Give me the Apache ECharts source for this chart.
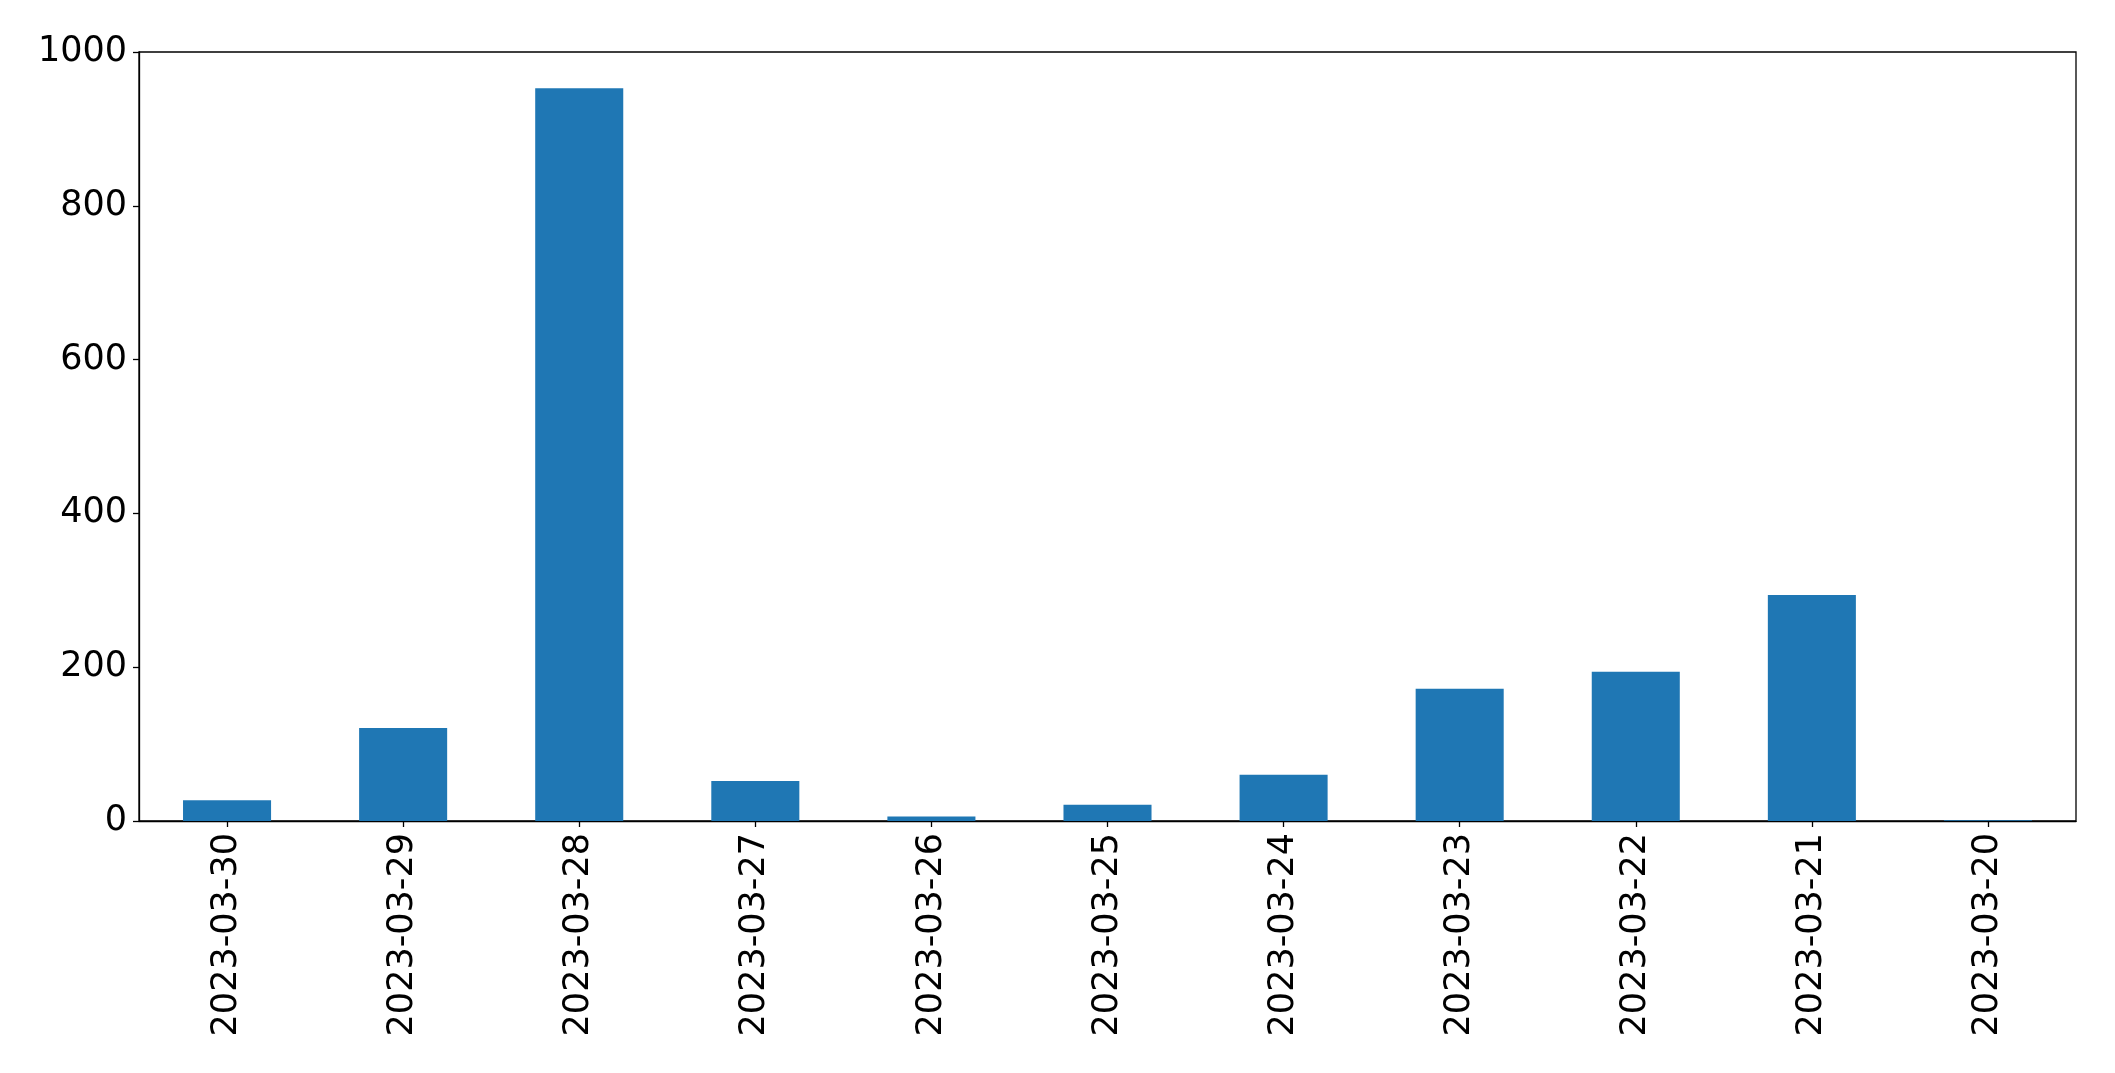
<!DOCTYPE html>
<html>
<head>
<meta charset="utf-8">
<script src="https://cdn.jsdelivr.net/npm/echarts@6/dist/echarts.min.js"></script>
<style>html,body{margin:0;padding:0;background:#fff}#c{width:2115px;height:1073px}</style>
</head>
<body>
<div id="c"></div>
<script>
var categories = ['2023-03-30','2023-03-29','2023-03-28','2023-03-27','2023-03-26','2023-03-25','2023-03-24','2023-03-23','2023-03-22','2023-03-21','2023-03-20'];
var values = [27, 121, 953, 52, 6, 21, 60, 172, 194, 294, 1];
var yTicks = [0, 200, 400, 600, 800, 1000];

var chart = echarts.init(document.getElementById('c'), null, {renderer: 'canvas'});
var font = 'DejaVu Sans';
chart.setOption({
  animation: false,
  backgroundColor: '#ffffff',
  grid: {left: 139, right: 39, top: 52, bottom: 252, show: true, borderColor: '#000', borderWidth: 1.3, backgroundColor: 'transparent'},
  xAxis: {
    type: 'category',
    data: categories,
    axisLine: {show: true, lineStyle: {color: '#000', width: 1.3}},
    axisTick: {show: true, alignWithLabel: true, length: 6, lineStyle: {color: '#000', width: 1.3}},
    axisLabel: {rotate: 90, margin: 12, fontFamily: font, fontSize: 35, color: '#000', interval: 0},
    splitLine: {show: false}
  },
  yAxis: {
    type: 'value',
    min: yTicks[0],
    max: yTicks[yTicks.length - 1],
    interval: 200,
    axisLine: {show: true, lineStyle: {color: '#000', width: 1.3}},
    axisTick: {show: true, length: 6, lineStyle: {color: '#000', width: 1.3}},
    axisLabel: {margin: 12, fontFamily: font, fontSize: 35, color: '#000', formatter: function (v) { return String(v); }},
    splitLine: {show: false}
  },
  series: [{
    type: 'bar',
    data: values,
    barWidth: '50%',
    itemStyle: {color: '#1f77b4'}
  }]
});
</script>
</body>
</html>
